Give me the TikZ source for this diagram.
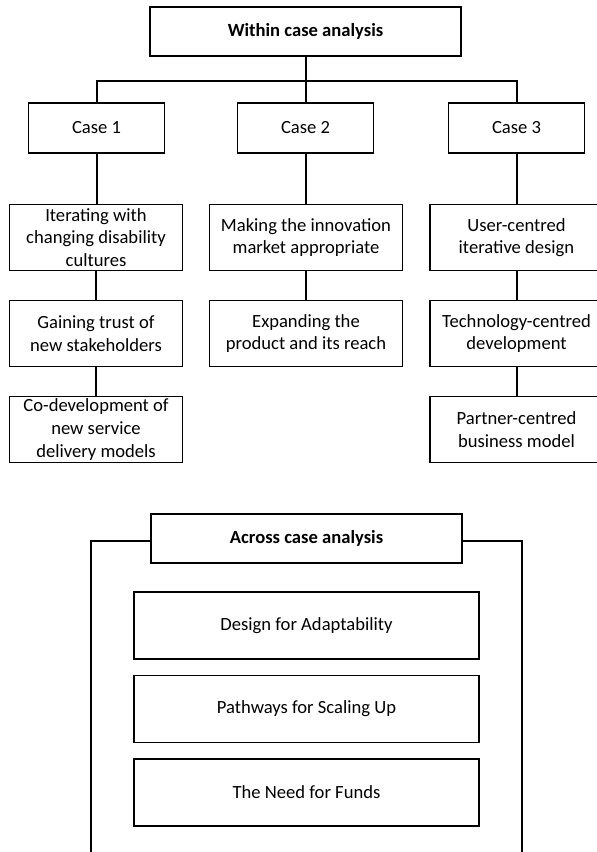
\documentclass[tikz,border=0pt]{standalone}
\usepackage{fontspec}
\setmainfont{Carlito}

\begin{document}
\begin{tikzpicture}[
    x=1pt, y=-1pt,
    box/.style={draw, line width=1.3pt, align=center, inner sep=0pt,
        font=\fontsize{18.6}{22.7}\selectfont},
    head/.style={box, minimum width=311pt, minimum height=49pt, font=\fontsize{18.6}{22.7}\selectfont\bfseries},
    casebox/.style={box, minimum width=136pt, minimum height=50pt},
    stage/.style={box, minimum height=66pt},
    theme/.style={box, minimum width=345pt, minimum height=67pt},
    link/.style={line width=2pt}
]
\clip (0,0) rectangle (597,852);

% Within case analysis
\node[head] (within) at (305.5,31.5) {Within case analysis};
\node[casebox] (case1) at (96.5,128) {Case 1};
\node[casebox] (case2) at (305.5,128) {Case 2};
\node[casebox] (case3) at (516.5,128) {Case 3};

% Case 1
\node[stage, minimum width=173.5pt] (c1a) at (96,237.5) {Iterating with\\changing disability\\cultures};
\node[stage, minimum width=173.5pt] (c1b) at (96,333.5) {Gaining trust of\\new stakeholders};
\node[stage, minimum width=173.5pt] (c1c) at (96,429.5) {Co-development of\\new service\\delivery models};

% Case 2
\node[stage, minimum width=193.5pt] (c2a) at (306,237.5) {Making the innovation\\market appropriate};
\node[stage, minimum width=193.5pt] (c2b) at (306,333.5) {Expanding the\\product and its reach};

% Case 3
\node[stage, minimum width=173pt] (c3a) at (516.5,237.5) {User-centred\\iterative design};
\node[stage, minimum width=173pt] (c3b) at (516.5,333.5) {Technology-centred\\development};
\node[stage, minimum width=173pt] (c3c) at (516.5,429.5) {Partner-centred\\business model};

\draw[link] (within.south) -- ++(0,24) coordinate (hub);
\draw[link] (hub) -| (case1.north);
\draw[link] (hub) -| (case3.north);
\draw[link] (hub) -- (case2.north);

\draw[link] (case1.south) -- (case1.south |- c1a.north);
\draw[link] (c1a.south) -- (c1b.north);
\draw[link] (c1b.south) -- (c1c.north);
\draw[link] (case2.south) -- (case2.south |- c2a.north);
\draw[link] (c2a.south) -- (c2b.north);
\draw[link] (case3.south) -- (c3a.north);
\draw[link] (c3a.south) -- (c3b.north);
\draw[link] (c3b.south) -- (c3c.north);

% Across case analysis
\node[head] (across) at (306.5,538.5) {Across case analysis};
\draw[link] (across.west) ++(0,2.5) -- ++(-59,0) -- ++(0,330);
\draw[link] (across.east) ++(0,2.5) -- ++(59,0) -- ++(0,330);

\node[theme] (design) at (306.5,625.5) {Design for Adaptability};
\node[theme] (paths) at (306.5,709) {Pathways for Scaling Up};
\node[theme] (funds) at (306.5,792.5) {The Need for Funds};
\end{tikzpicture}
\end{document}
